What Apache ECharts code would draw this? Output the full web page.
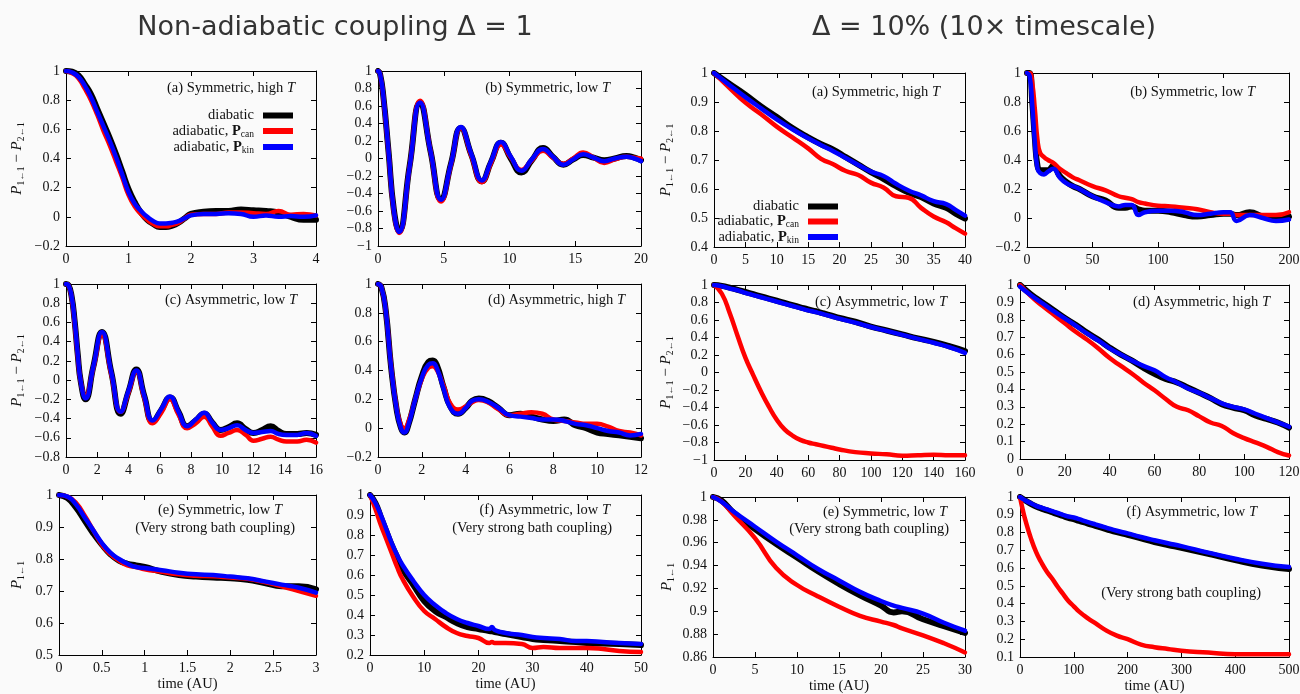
<!DOCTYPE html>
<html>
<head>
<meta charset="utf-8">
<title>Population dynamics: diabatic vs adiabatic</title>
<script src="https://cdn.jsdelivr.net/npm/echarts@6/dist/echarts.min.js"></script>
<style>
  html, body { margin: 0; padding: 0; background: #fafafa; }
  #chart { width: 1300px; height: 694px; }
</style>
</head>
<body>
<div id="chart"></div>
<script>
// ===== Δ = 1 =====
// (a) Symmetric, high T
const tA1    = [0,0.1,0.2,0.3,0.4,0.5,0.6,0.7,0.8,0.9,1.0,1.1,1.2,1.3,1.4,1.5,1.6,1.7,1.8,1.9,2.0,2.2,2.4,2.6,2.8,3.0,3.2,3.4,3.6,3.8,4.0];
const diabA1 = [1.0,0.995,0.97,0.91,0.84,0.74,0.64,0.54,0.43,0.31,0.19,0.1,0.03,-0.02,-0.05,-0.07,-0.07,-0.06,-0.04,-0.01,0.02,0.035,0.04,0.04,0.05,0.045,0.04,0.03,0.0,-0.02,-0.02];
const canA1  = [1.0,0.985,0.95,0.88,0.8,0.7,0.59,0.49,0.38,0.27,0.15,0.07,0.02,-0.02,-0.05,-0.065,-0.065,-0.055,-0.04,-0.01,0.015,0.02,0.02,0.03,0.03,0.025,0.02,0.04,0.015,0.02,0.01];
const kinA1  = [1.0,0.99,0.96,0.9,0.82,0.72,0.62,0.52,0.41,0.29,0.17,0.09,0.04,0.0,-0.03,-0.045,-0.045,-0.04,-0.03,-0.01,0.01,0.02,0.02,0.025,0.02,0.0,0.01,0.0,0.005,0.0,0.01];
const xA1 = [0, 4, 1], yA1 = [-0.2, 1, 0.2];

// (b) Symmetric, low T
const tB1    = [0,0.15,0.4,0.8,1.2,1.6,2.4,3.2,4.0,4.8,5.55,6.3,7.1,7.9,8.6,9.35,10.1,10.9,11.7,12.55,13.3,14.1,14.85,15.6,16.4,17.2,18.0,18.9,19.5,20.0];
const diabB1 = [1.0,0.97,0.72,0.08,-0.58,-0.83,-0.09,0.64,0.08,-0.47,-0.06,0.35,0.04,-0.26,-0.04,0.18,0.0,-0.16,-0.02,0.12,0.02,-0.07,-0.01,0.04,0.01,-0.02,0.0,0.03,0.01,-0.02];
const canB1  = [1.0,0.97,0.71,0.07,-0.6,-0.85,-0.1,0.66,0.08,-0.49,-0.07,0.35,0.03,-0.27,-0.05,0.16,0.01,-0.13,-0.02,0.09,0.01,-0.06,0.0,0.07,0.01,-0.05,-0.01,0.02,0.01,0.0];
const kinB1  = [1.0,0.97,0.72,0.08,-0.59,-0.84,-0.1,0.64,0.08,-0.47,-0.06,0.36,0.05,-0.25,-0.03,0.19,0.02,-0.14,-0.01,0.11,0.02,-0.07,-0.01,0.05,0.01,-0.03,0.0,0.02,0.0,-0.03];
const xB1 = [0, 20, 5], yB1 = [-1, 1, 0.2];

// (c) Asymmetric, low T
const tC1    = [0,0.15,0.35,0.55,0.75,0.95,1.25,1.75,2.3,2.9,3.5,4.0,4.5,5.0,5.55,6.1,6.65,7.2,7.75,8.3,8.85,9.35,9.9,10.4,10.95,11.5,12.0,12.55,13.1,13.6,14.1,14.8,15.4,16.0];
const diabC1 = [1.0,0.99,0.88,0.62,0.27,-0.02,-0.2,0.14,0.5,0.08,-0.35,-0.12,0.11,-0.16,-0.43,-0.31,-0.18,-0.33,-0.48,-0.42,-0.35,-0.44,-0.52,-0.49,-0.45,-0.51,-0.55,-0.52,-0.48,-0.53,-0.56,-0.56,-0.55,-0.57];
const canC1  = [1.0,0.99,0.87,0.6,0.25,-0.02,-0.16,0.13,0.47,0.06,-0.33,-0.13,0.09,-0.18,-0.45,-0.34,-0.2,-0.36,-0.5,-0.45,-0.38,-0.48,-0.58,-0.55,-0.52,-0.57,-0.63,-0.61,-0.59,-0.62,-0.64,-0.64,-0.62,-0.65];
const kinC1  = [1.0,0.99,0.88,0.62,0.27,-0.02,-0.19,0.14,0.5,0.08,-0.33,-0.11,0.1,-0.16,-0.42,-0.3,-0.17,-0.33,-0.48,-0.41,-0.34,-0.44,-0.52,-0.5,-0.47,-0.52,-0.55,-0.54,-0.53,-0.56,-0.57,-0.57,-0.55,-0.58];
const xC1 = [0, 16, 2], yC1 = [-0.8, 1, 0.2];

// (d) Asymmetric, high T
const tD1    = [0,0.15,0.35,0.6,0.85,1.05,1.2,1.4,1.7,2.0,2.3,2.5,2.7,3.0,3.3,3.65,4.0,4.3,4.6,5.0,5.5,6.0,6.5,7.0,7.5,8.0,8.5,9.0,9.5,10.0,10.5,11.0,11.5,12.0];
const diabD1 = [1.0,0.98,0.82,0.42,0.13,0.0,-0.03,0.03,0.2,0.36,0.46,0.47,0.43,0.28,0.15,0.1,0.14,0.19,0.205,0.19,0.14,0.09,0.1,0.08,0.06,0.05,0.06,0.02,0.0,-0.03,-0.04,-0.05,-0.06,-0.07];
const canD1  = [1.0,0.98,0.82,0.43,0.14,0.02,0.0,0.05,0.2,0.34,0.42,0.43,0.4,0.29,0.17,0.13,0.15,0.18,0.195,0.18,0.13,0.09,0.1,0.11,0.1,0.06,0.05,0.04,0.03,0.03,0.01,-0.02,-0.03,-0.05];
const kinD1  = [1.0,0.98,0.82,0.42,0.13,0.0,-0.03,0.03,0.2,0.35,0.44,0.45,0.41,0.27,0.14,0.1,0.14,0.19,0.2,0.185,0.14,0.09,0.08,0.07,0.06,0.06,0.05,0.03,0.02,0.0,-0.02,-0.03,-0.05,-0.04];
const xD1 = [0, 12, 2], yD1 = [-0.2, 1, 0.2];

// (e) Symmetric, low T, very strong bath coupling
const tE1    = [0,0.1,0.2,0.3,0.4,0.5,0.6,0.7,0.8,0.9,1.0,1.2,1.4,1.6,1.8,2.0,2.2,2.4,2.6,2.8,3.0];
const diabE1 = [1.0,0.99,0.96,0.92,0.88,0.845,0.815,0.795,0.785,0.78,0.775,0.76,0.75,0.745,0.742,0.74,0.735,0.725,0.715,0.715,0.705];
const canE1  = [1.0,0.995,0.975,0.935,0.89,0.845,0.815,0.795,0.78,0.775,0.768,0.76,0.752,0.748,0.746,0.742,0.738,0.728,0.715,0.7,0.685];
const kinE1  = [1.0,0.995,0.97,0.93,0.89,0.85,0.82,0.8,0.785,0.775,0.772,0.765,0.757,0.752,0.75,0.745,0.74,0.73,0.72,0.71,0.695];
const xE1 = [0, 3, 0.5], yE1 = [0.5, 1, 0.1];

// (f) Asymmetric, low T, very strong bath coupling
const tF1    = [0,1,2,3,4,5,6,8,10,12,14,16,18,20,22,22.5,23,25,28,30,32,35,38,40,43,46,50];
const diabF1 = [1.0,0.96,0.89,0.82,0.75,0.69,0.63,0.55,0.47,0.42,0.39,0.36,0.34,0.33,0.32,0.318,0.315,0.305,0.29,0.28,0.275,0.27,0.265,0.26,0.257,0.255,0.25];
const canF1  = [1.0,0.93,0.85,0.78,0.71,0.64,0.58,0.49,0.42,0.38,0.34,0.31,0.295,0.285,0.26,0.265,0.26,0.26,0.255,0.235,0.24,0.235,0.235,0.235,0.23,0.22,0.215];
const kinF1  = [1.0,0.96,0.9,0.83,0.76,0.7,0.65,0.57,0.5,0.45,0.41,0.38,0.36,0.345,0.33,0.34,0.325,0.31,0.3,0.29,0.285,0.28,0.27,0.27,0.265,0.26,0.255];
const xF1 = [0, 50, 10], yF1 = [0.2, 1, 0.1];

// ===== Δ = 10% (10× timescale) =====
// (a) Symmetric, high T
const tA2    = [0,2.5,5,7.5,10,12.5,15,17,19,21,23,25,27,29,31,33,35,37,38.5,40];
const diabA2 = [1.0,0.962,0.925,0.885,0.848,0.81,0.778,0.755,0.736,0.71,0.684,0.658,0.635,0.61,0.588,0.572,0.55,0.535,0.515,0.498];
const canA2  = [1.0,0.948,0.898,0.858,0.815,0.778,0.74,0.705,0.685,0.662,0.648,0.622,0.605,0.575,0.57,0.535,0.505,0.485,0.465,0.446];
const kinA2  = [1.0,0.958,0.917,0.878,0.84,0.806,0.775,0.752,0.73,0.707,0.683,0.66,0.645,0.618,0.595,0.578,0.558,0.548,0.528,0.508];
const xA2 = [0, 40, 5], yA2 = [0.4, 1, 0.1];

// (b) Symmetric, low T
const tB2    = [0,2,4,6,8,10,13,16,20,25,30,35,40,50,60,70,75,80,85,90,100,110,120,130,140,150,155,160,170,180,190,200];
const diabB2 = [1.0,1.0,0.8,0.55,0.36,0.33,0.33,0.33,0.36,0.29,0.25,0.22,0.2,0.15,0.12,0.07,0.07,0.08,0.06,0.05,0.05,0.04,0.02,0.01,0.02,0.03,0.03,0.02,0.04,0.01,0.0,0.01];
const canB2  = [1.0,1.0,0.93,0.75,0.54,0.45,0.42,0.4,0.38,0.34,0.31,0.28,0.26,0.22,0.19,0.15,0.14,0.13,0.11,0.1,0.085,0.08,0.07,0.06,0.04,0.03,0.03,0.02,0.02,0.02,0.02,0.04];
const kinB2  = [1.0,0.98,0.78,0.52,0.34,0.31,0.3,0.32,0.34,0.28,0.24,0.22,0.2,0.15,0.11,0.08,0.09,0.09,0.02,0.04,0.05,0.05,0.04,0.02,0.03,0.04,0.04,-0.02,0.02,0.0,-0.02,-0.01];
const xB2 = [0, 200, 50], yB2 = [-0.2, 1, 0.2];

// (c) Asymmetric, low T
const tC2    = [0,5,10,15,20,25,30,35,40,45,50,55,60,65,70,75,80,90,100,110,120,130,140,150,160];
const diabC2 = [1.0,0.99,0.97,0.945,0.92,0.895,0.87,0.845,0.82,0.795,0.77,0.745,0.72,0.7,0.675,0.65,0.625,0.58,0.525,0.48,0.435,0.39,0.35,0.3,0.245];
const canC2  = [1.0,0.9,0.68,0.42,0.17,-0.03,-0.22,-0.39,-0.54,-0.65,-0.72,-0.77,-0.8,-0.82,-0.84,-0.86,-0.88,-0.91,-0.925,-0.935,-0.95,-0.945,-0.94,-0.945,-0.945];
const kinC2  = [1.0,0.985,0.96,0.94,0.91,0.885,0.86,0.835,0.81,0.785,0.76,0.735,0.71,0.69,0.665,0.64,0.615,0.57,0.52,0.475,0.43,0.385,0.34,0.29,0.225];
const xC2 = [0, 160, 20], yC2 = [-1, 1, 0.2];

// (d) Asymmetric, high T
const tD2    = [0,5,10,15,20,25,30,35,40,45,50,55,60,65,70,75,80,85,90,95,100,105,110,115,120];
const diabD2 = [1.0,0.945,0.9,0.855,0.81,0.77,0.725,0.685,0.64,0.6,0.565,0.525,0.49,0.46,0.44,0.41,0.38,0.35,0.315,0.295,0.28,0.25,0.23,0.21,0.18];
const canD2  = [1.0,0.935,0.88,0.83,0.78,0.73,0.685,0.635,0.58,0.535,0.49,0.44,0.395,0.345,0.3,0.28,0.245,0.21,0.19,0.15,0.12,0.095,0.07,0.04,0.02];
const kinD2  = [0.99,0.94,0.895,0.85,0.808,0.765,0.72,0.68,0.636,0.6,0.565,0.535,0.51,0.47,0.44,0.405,0.38,0.35,0.32,0.3,0.285,0.26,0.235,0.21,0.186];
const xD2 = [0, 120, 20], yD2 = [0, 1, 0.1];

// (e) Symmetric, low T, very strong bath coupling
const tE2    = [0,1,2.5,5,7.5,10,12.5,15,17.5,20,21.5,22.5,25,27.5,30];
const diabE2 = [1.0,0.997,0.986,0.972,0.959,0.947,0.935,0.924,0.914,0.905,0.899,0.9,0.893,0.887,0.881];
const canE2  = [1.0,0.996,0.984,0.964,0.938,0.923,0.913,0.904,0.896,0.891,0.888,0.885,0.879,0.872,0.864];
const kinE2  = [1.0,0.996,0.987,0.974,0.961,0.949,0.937,0.927,0.917,0.909,0.905,0.903,0.898,0.89,0.883];
const xE2 = [0, 30, 5], yE2 = [0.86, 1, 0.02];

// (f) Asymmetric, low T, very strong bath coupling
const tF2    = [0,5,10,20,30,40,50,60,70,80,90,100,110,125,140,160,180,200,225,250,275,300,350,400,450,500];
const diabF2 = [1.0,0.99,0.98,0.962,0.947,0.935,0.925,0.914,0.903,0.893,0.882,0.875,0.865,0.852,0.838,0.82,0.802,0.787,0.767,0.747,0.73,0.714,0.68,0.645,0.615,0.595];
const canF2  = [1.0,0.93,0.87,0.77,0.69,0.63,0.58,0.54,0.495,0.455,0.415,0.385,0.355,0.32,0.29,0.25,0.22,0.2,0.17,0.155,0.145,0.135,0.125,0.115,0.115,0.115];
const kinF2  = [1.0,0.99,0.98,0.965,0.95,0.94,0.93,0.92,0.91,0.9,0.89,0.885,0.875,0.86,0.846,0.828,0.81,0.795,0.775,0.757,0.74,0.724,0.687,0.653,0.625,0.606];
const xF2 = [0, 500, 100], yF2 = [0.1, 1, 0.1];

// Series names and colours
const NAMES  = ['diabatic', 'adiabatic, Pcan', 'adiabatic, Pkin'];
const COLORS = ['#000000', '#ff0000', '#0000ff'];
const WIDTHS = [6, 4.5, 4.5];

// Axis names (rich text)
const Y_DIFF = '{i|P}{s|1\u21901}{m| \u2212 }{i|P}{s|2\u21901}';
const Y_ONE  = '{i|P}{s|1\u21901}';
const X_TIME = 'time (AU)';

// Panels: data + text
const panels = [
  { t: tA1, d: [diabA1, canA1, kinA1], x: xA1, y: yA1, yName: Y_DIFF, lines: ['(a) Symmetric, high {i|T}'] },
  { t: tB1, d: [diabB1, canB1, kinB1], x: xB1, y: yB1, lines: ['(b) Symmetric, low {i|T}'] },
  { t: tC1, d: [diabC1, canC1, kinC1], x: xC1, y: yC1, yName: Y_DIFF, lines: ['(c) Asymmetric, low {i|T}'] },
  { t: tD1, d: [diabD1, canD1, kinD1], x: xD1, y: yD1, lines: ['(d) Asymmetric, high {i|T}'] },
  { t: tE1, d: [diabE1, canE1, kinE1], x: xE1, y: yE1, yName: Y_ONE, xName: X_TIME, lines: ['(e) Symmetric, low {i|T}', '(Very strong bath coupling)'] },
  { t: tF1, d: [diabF1, canF1, kinF1], x: xF1, y: yF1, xName: X_TIME, lines: ['(f) Asymmetric, low {i|T}', '(Very strong bath coupling)'] },
  { t: tA2, d: [diabA2, canA2, kinA2], x: xA2, y: yA2, yName: Y_DIFF, lines: ['(a) Symmetric, high {i|T}'] },
  { t: tB2, d: [diabB2, canB2, kinB2], x: xB2, y: yB2, lines: ['(b) Symmetric, low {i|T}'] },
  { t: tC2, d: [diabC2, canC2, kinC2], x: xC2, y: yC2, yName: Y_DIFF, lines: ['(c) Asymmetric, low {i|T}'] },
  { t: tD2, d: [diabD2, canD2, kinD2], x: xD2, y: yD2, lines: ['(d) Asymmetric, high {i|T}'] },
  { t: tE2, d: [diabE2, canE2, kinE2], x: xE2, y: yE2, yName: Y_ONE, xName: X_TIME, lines: ['(e) Symmetric, low {i|T}', '(Very strong bath coupling)'] },
  { t: tF2, d: [diabF2, canF2, kinF2], x: xF2, y: yF2, xName: X_TIME, lines: ['(f) Asymmetric, low {i|T}', '(Very strong bath coupling)'] }
];

// Layout: plot frame [left, top, width, height], y-name gap, and panel-label anchors [rightX, centerY]
const frames = [
  { box: [66, 71, 250, 175],   yGap: 40, text: [[295, 88]] },
  { box: [378, 71, 263, 175],  yGap: 40, text: [[610, 88]] },
  { box: [66, 284, 250, 173],  yGap: 40, text: [[297, 300]] },
  { box: [378, 284, 263, 173], yGap: 40, text: [[625, 300]] },
  { box: [59, 495, 257, 160],  yGap: 33, text: [[282, 510], [295, 528]] },
  { box: [370, 495, 271, 160], yGap: 33, text: [[610, 510], [612, 528]] },
  { box: [714, 73, 251, 174],  yGap: 39, text: [[940, 92]] },
  { box: [1027, 73, 262, 174], yGap: 39, text: [[1255, 92]] },
  { box: [714, 285, 251, 175], yGap: 39, text: [[947, 302]] },
  { box: [1020, 285, 269, 174], yGap: 39, text: [[1270, 302]] },
  { box: [713, 497, 252, 160], yGap: 37, text: [[947, 512], [949, 529]] },
  { box: [1020, 497, 269, 160], yGap: 37, text: [[1257, 512], [1261, 593]] }
];

const SERIF = '"Liberation Serif", "Times New Roman", serif';
const SANS = '"DejaVu Sans", sans-serif';
const INK = '#111111';

function tickFmt(v) {
  const s = String(Math.round(v * 1000) / 1000);
  return s.replace('-', '\u2212');
}

const nameRich = {
  i: { fontFamily: SERIF, fontSize: 15, fontStyle: 'italic', color: INK, lineHeight: 18 },
  m: { fontFamily: SERIF, fontSize: 15, color: INK, lineHeight: 18 },
  s: { fontFamily: SERIF, fontSize: 9.5, color: INK, lineHeight: 7, verticalAlign: 'bottom' }
};

const grids = [], xAxes = [], yAxes = [], series = [], graphics = [];

panels.forEach((p, i) => {
  const f = frames[i];
  const [left, top, width, height] = f.box;
  grids.push({ left, top, width, height, containLabel: false, outerBoundsMode: 'none' });

  const axLine = { show: true, onZero: false, lineStyle: { color: '#000', width: 1 } };
  const axTick = { show: true, inside: true, length: 5, lineStyle: { color: '#000', width: 1 } };
  const axLabel = { show: true, color: INK, fontFamily: SERIF, fontSize: 14, margin: 6, formatter: tickFmt };
  const noLabel = { show: false };

  const common = (r) => ({ type: 'value', gridIndex: i, min: r[0], max: r[1], interval: r[2],
    axisLine: axLine, axisTick: axTick, splitLine: { show: false }, minorTick: { show: false } });

  xAxes.push(Object.assign(common(p.x), {
    position: 'bottom', axisLabel: axLabel,
    name: p.xName || '', nameLocation: 'middle', nameGap: 22,
    nameTextStyle: { fontFamily: SERIF, fontSize: 14.5, color: INK }
  }));
  xAxes.push(Object.assign(common(p.x), { position: 'top', axisLabel: noLabel }));

  yAxes.push(Object.assign(common(p.y), {
    position: 'left', axisLabel: axLabel,
    name: p.yName || '', nameLocation: 'middle', nameRotate: 90, nameGap: f.yGap,
    nameTextStyle: { fontFamily: SERIF, fontSize: 15, color: INK, rich: nameRich }
  }));
  yAxes.push(Object.assign(common(p.y), { position: 'right', axisLabel: noLabel }));

  const ax = 2 * i;
  p.d.forEach((vals, k) => {
    series.push({
      type: 'line', name: NAMES[k], xAxisIndex: ax, yAxisIndex: ax,
      data: p.t.map((t, j) => [t, vals[j]]),
      showSymbol: false, symbol: 'none', smooth: 0.5,
      lineStyle: { color: COLORS[k], width: WIDTHS[k], cap: 'round', join: 'round' },
      itemStyle: { color: COLORS[k] },
      emphasis: { disabled: true }, silent: true, animation: false, z: 2 + k
    });
  });

  p.lines.forEach((txt, j) => {
    const [rx, cy] = f.text[j];
    graphics.push({
      type: 'text', silent: true, z: 10,
      style: {
        text: txt, x: rx, y: cy, align: 'right', verticalAlign: 'middle',
        fontFamily: SERIF, fontSize: 14.5, fill: INK,
        rich: { i: { fontFamily: SERIF, fontSize: 14.5, fontStyle: 'italic', fill: INK } }
      }
    });
  });
});

// Panel-group headings
graphics.push({
  type: 'text', silent: true,
  style: { text: 'Non-adiabatic coupling \u0394 = 1', x: 335, y: 28, align: 'center', verticalAlign: 'middle',
           fontFamily: SANS, fontSize: 27, fill: '#333333' }
});
graphics.push({
  type: 'text', silent: true,
  style: { text: '\u0394 = 10% (10\u00d7 timescale)', x: 984, y: 28, align: 'center', verticalAlign: 'middle',
           fontFamily: SANS, fontSize: 27, fill: '#333333' }
});

// Legend keys
const legendRich = {
  t: { fontFamily: SERIF, fontSize: 14.5, color: INK, lineHeight: 16 },
  b: { fontFamily: SERIF, fontSize: 14.5, fontWeight: 'bold', color: INK, lineHeight: 16 },
  s: { fontFamily: SERIF, fontSize: 9.5, color: INK, lineHeight: 6, verticalAlign: 'bottom' }
};
const legendFmt = (name) => {
  if (name === 'adiabatic, Pcan') return '{t|adiabatic, }{b|P}{s|can}';
  if (name === 'adiabatic, Pkin') return '{t|adiabatic, }{b|P}{s|kin}';
  return '{t|' + name + '}';
};
const legendBase = {
  data: NAMES, orient: 'vertical', align: 'right', icon: 'rect',
  itemWidth: 30, itemHeight: 6, selectedMode: false,
  formatter: legendFmt,
  textStyle: { fontFamily: SERIF, fontSize: 14.5, color: INK, padding: [0, 4, 0, 0], rich: legendRich }
};

const chart = echarts.init(document.getElementById('chart'), null, { renderer: 'canvas' });
chart.setOption({
  backgroundColor: '#fafafa',
  animation: false,
  grid: grids,
  xAxis: xAxes,
  yAxis: yAxes,
  series: series,
  legend: [
    Object.assign({}, legendBase, { right: 1002, top: 103, itemGap: 0.5 }),
    Object.assign({}, legendBase, { right: 457, top: 194, itemGap: 0 })
  ],
  graphic: graphics
});
</script>
</body>
</html>
